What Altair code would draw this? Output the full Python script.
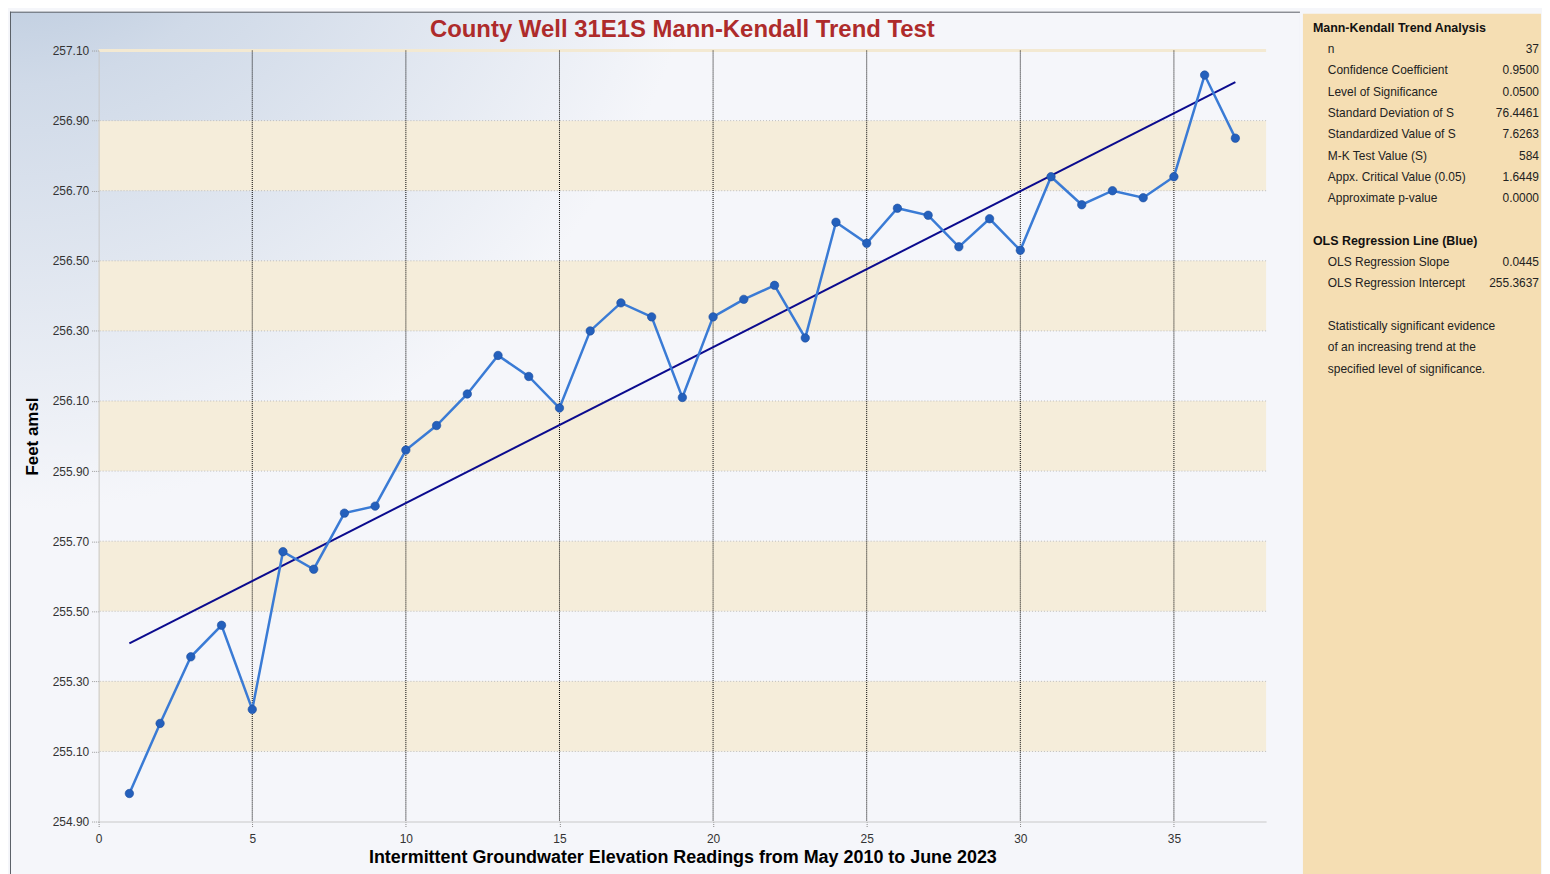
import altair as alt
import pandas as pd

# ---------------- data ----------------
readings = list(range(1, 38))
elevations = [254.98, 255.18, 255.37, 255.46, 255.22, 255.67, 255.62, 255.78, 255.80, 255.96,
              256.03, 256.12, 256.23, 256.17, 256.08, 256.30, 256.38, 256.34, 256.11, 256.34,
              256.39, 256.43, 256.28, 256.61, 256.55, 256.65, 256.63, 256.54, 256.62, 256.53,
              256.74, 256.66, 256.70, 256.68, 256.74, 257.03, 256.85]

ols_slope = 0.0445
ols_intercept = 255.3637
ols_x = [1, 37]

x_domain = [0, 38]
x_ticks = [0, 5, 10, 15, 20, 25, 30, 35]
x_grid = [5, 10, 15, 20, 25, 30, 35]
y_domain = [254.90, 257.10]
y_ticks = [254.90, 255.10, 255.30, 255.50, 255.70, 255.90, 256.10, 256.30,
           256.50, 256.70, 256.90, 257.10]
band_lo = [255.10, 255.50, 255.90, 256.30, 256.70]
band_hi = [255.30, 255.70, 256.10, 256.50, 256.90]

title_text = "County Well 31E1S Mann-Kendall Trend Test"
x_title = "Intermittent Groundwater Elevation Readings from May 2010 to June 2023"
y_title = "Feet amsl"

mk_heading = "Mann-Kendall Trend Analysis"
mk_labels = ["n", "Confidence Coefficient", "Level of Significance", "Standard Deviation of S",
             "Standardized Value of S", "M-K Test Value (S)", "Appx. Critical Value (0.05)",
             "Approximate p-value"]
mk_values = ["37", "0.9500", "0.0500", "76.4461", "7.6263", "584", "1.6449", "0.0000"]
ols_heading = "OLS Regression Line (Blue)"
ols_labels = ["OLS Regression Slope", "OLS Regression Intercept"]
ols_values = ["0.0445", "255.3637"]
note_lines = ["Statistically significant evidence", "of an increasing trend at the",
              "specified level of significance."]

# ---------------- tables ----------------
df = pd.DataFrame({"x": readings, "y": elevations})
reg = pd.DataFrame({"x": ols_x, "y": [ols_intercept + ols_slope * v for v in ols_x]})
bands = pd.DataFrame({"lo": band_lo, "hi": band_hi, "x0": x_domain[0], "x1": x_domain[1]})
hgrid = pd.DataFrame({"y": y_ticks[1:-1]})
vgrid = pd.DataFrame({"x": x_grid})
top = pd.DataFrame({"y": [y_ticks[-1]]})

FONT = "Liberation Sans"
W, H = 1172, 774
TOP = 39          # space above plot inside frame
BOT = 60          # frame continues below the visible window
LEFT = 89
GAP = 34
PANEL_W = 239

xs = alt.Scale(domain=x_domain, nice=False, zero=False)
ys = alt.Scale(domain=y_domain, nice=False, zero=False)
x_axis = alt.Axis(values=x_ticks, grid=False, domainColor="#C8C8C8", tickSize=5, tickColor="#888888",
                  tickDash=[1, 1], labelFont=FONT, labelFontSize=12, labelColor="#333333",
                  labelPadding=7, labelFlush=False, titleFont=FONT, titleFontSize=18,
                  titleFontWeight="bold", titleColor="#000000", titlePadding=4, zindex=1)
y_axis = alt.Axis(values=y_ticks, format=".2f", grid=False, domainColor="#C8C8C8", tickSize=7,
                  tickColor="#999999", tickDash=[1, 1], labelFont=FONT, labelFontSize=12,
                  labelColor="#333333", labelPadding=3, labelFlush=False, titleFont=FONT,
                  titleFontSize=17, titleFontWeight="bold", titleColor="#000000", titlePadding=11,
                  zindex=1)


def X(f):
    return alt.X(f, type="quantitative", scale=xs, axis=x_axis, title=x_title)


def Y(f):
    return alt.Y(f, type="quantitative", scale=ys, axis=y_axis, title=y_title)


one = alt.Data(values=[{"k": 1}])

# decorative frame background with gradient
bg = alt.Chart(one).mark_rect(
    fill={"gradient": "radial", "x1": 0, "y1": 0, "r1": 0, "x2": 0, "y2": 0, "r2": 0.55,
          "stops": [{"offset": 0, "color": "#A3B8D2"}, {"offset": 0.4, "color": "#D0DAE8"},
                    {"offset": 1, "color": "#F5F6FA"}]}
).encode(x=alt.value(-LEFT), x2=alt.value(W + GAP), y=alt.value(-TOP), y2=alt.value(H + BOT))

frame_left = alt.Chart(one).mark_rule(color="#5A5F66", strokeWidth=1).encode(
    x=alt.value(-LEFT + 0.5), y=alt.value(-TOP), y2=alt.value(H + BOT))
frame_top = alt.Chart(one).mark_rule(color="#5A5F66", strokeWidth=1).encode(
    x=alt.value(-LEFT), x2=alt.value(W + GAP), y=alt.value(-TOP + 0.5))

title_mark = alt.Chart(alt.Data(values=[{"t": title_text}])).mark_text(
    font=FONT, fontSize=24, fontWeight="bold", color="#AE2B2B", align="center", baseline="middle"
).encode(x=alt.value(W / 2), y=alt.value(-21), text="t:N")

band_layer = alt.Chart(bands).mark_rect(color="#F5EDDA").encode(
    x=X("x0"), x2="x1", y=Y("lo"), y2="hi")
top_rule = alt.Chart(top).mark_rule(color="#F3E9D2", strokeWidth=3).encode(y=Y("y"))
hgrid_layer = alt.Chart(hgrid).mark_rule(color="#BDBDBD", strokeDash=[1, 2], strokeWidth=1).encode(y=Y("y"))
vgrid_layer = alt.Chart(vgrid).mark_rule(color="#000000", strokeDash=[1, 1], strokeWidth=1).encode(x=X("x"))
reg_layer = alt.Chart(reg).mark_line(color="#0B0B8E", strokeWidth=2).encode(x=X("x"), y=Y("y"))
line_layer = alt.Chart(df).mark_line(color="#3A7BD5", strokeWidth=2.5).encode(x=X("x"), y=Y("y"))
pt_layer = alt.Chart(df).mark_point(filled=True, size=72, color="#2460BC", opacity=1,
                                    stroke="#1D4E9E", strokeWidth=0.6).encode(x=X("x"), y=Y("y"))

main = alt.layer(bg, frame_left, frame_top, title_mark, band_layer, top_rule, hgrid_layer,
                 vgrid_layer, reg_layer, line_layer, pt_layer).properties(
    width=W, height=H,
    view=alt.ViewBackground(fill="transparent", stroke="#CDCDCD", strokeWidth=1.5),
)

# ---------------- side panel ----------------
rows_head = pd.DataFrame({"row": [0, 10], "t": [mk_heading, ols_heading]})
rows_lab = pd.DataFrame({"row": list(range(1, 9)) + [11, 12], "t": mk_labels + ols_labels,
                         "v": mk_values + ols_values})
rows_note = pd.DataFrame({"row": [14, 15, 16], "t": note_lines})

py = alt.Scale(domain=[0, 1], range=[-23, -1.6])
PY = alt.Y("row:Q", scale=py, axis=None)

panel_bg = alt.Chart(one).mark_rect(color="#F5DEB3").encode(
    x=alt.value(0), x2=alt.value(PANEL_W), y=alt.value(-TOP + 2), y2=alt.value(H + BOT))
head = alt.Chart(rows_head).mark_text(align="left", baseline="middle", font=FONT, fontSize=12.5,
                                      fontWeight="bold", color="#111111").encode(
    x=alt.value(10), y=PY, text="t:N")
lab = alt.Chart(rows_lab).mark_text(align="left", baseline="middle", font=FONT, fontSize=12,
                                    color="#222222").encode(x=alt.value(25), y=PY, text="t:N")
val = alt.Chart(rows_lab).mark_text(align="right", baseline="middle", font=FONT, fontSize=12,
                                    color="#222222").encode(x=alt.value(PANEL_W - 2), y=PY, text="v:N")
note = alt.Chart(rows_note).mark_text(align="left", baseline="middle", font=FONT, fontSize=12,
                                      color="#222222").encode(x=alt.value(25), y=PY, text="t:N")

panel = alt.layer(panel_bg, head, lab, val, note).properties(
    width=PANEL_W, height=H,
    view=alt.ViewBackground(fill="transparent", stroke="transparent"),
)

chart = alt.hconcat(main, panel, spacing=0).properties(
    padding=0, background="#F5F6FA"
).configure_view(stroke="transparent")

chart.save("out.html", embed_options={"renderer": "svg", "actions": False})
